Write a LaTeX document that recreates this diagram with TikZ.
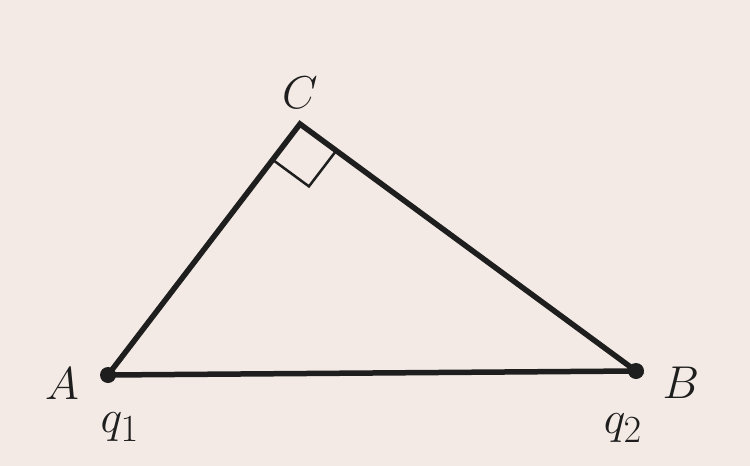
\documentclass[tikz,border=0pt]{standalone}
\usetikzlibrary{calc}
\definecolor{paper}{RGB}{243,234,229}
\definecolor{ink}{RGB}{30,30,30}
\begin{document}
\begin{tikzpicture}[x=1pt,y=-1pt,
  side/.style={draw=ink,line width=5.5pt,line cap=round,line join=miter},
  rmark/.style={draw=ink,line width=2.5pt},
  lbl/.style={inner sep=0pt,text=ink,font=\Huge,scale=1.85}]
\fill[paper] (0,0) rectangle (750,466);
\useasboundingbox (0,0) rectangle (750,466);
\coordinate (A) at (108,375);
\coordinate (B) at (636,371);
\coordinate (C) at (300,124);
\draw[side] (A) -- (C) -- (B) -- cycle;
\fill[ink] (A) circle (8);
\fill[ink] (B) circle (8);
\coordinate (P1) at ($(C)!45pt!(A)$);
\coordinate (P2) at ($(C)!45pt!(B)$);
\draw[rmark] (P1) -- ($(P1)+(P2)-(C)$) -- (P2);
\node[lbl] (lC) at (300,93) {$C$};
\node[lbl] (lA) at (62,384) {$A$};
\node[lbl] (lB) at (681,383) {$B$};
\node[lbl] (q1) at (120,427) {$q_1$};
\node[lbl] (q2) at (623,428) {$q_2$};
\end{tikzpicture}
\end{document}
